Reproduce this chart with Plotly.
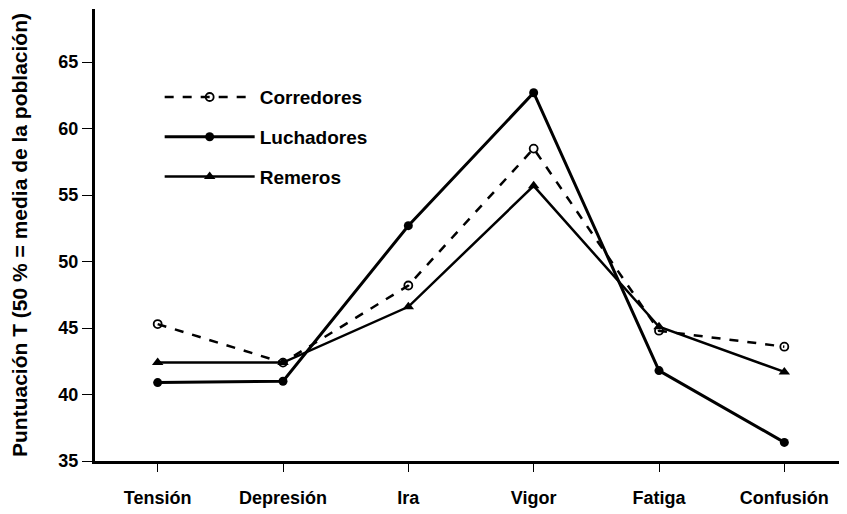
import plotly.graph_objects as go

categories = ["Tensión", "Depresión", "Ira", "Vigor", "Fatiga", "Confusión"]
corredores = [45.3, 42.4, 48.2, 58.5, 44.8, 43.6]
luchadores = [40.9, 41.0, 52.7, 62.7, 41.8, 36.4]
remeros = [42.4, 42.4, 46.6, 55.7, 45.1, 41.7]
y_ticks = [35, 40, 45, 50, 55, 60, 65]

font_family = "Liberation Sans, Arial, sans-serif"

fig = go.Figure()
fig.add_trace(go.Scatter(
    x=categories, y=corredores, name="<b>Corredores</b>", mode="lines+markers",
    line=dict(color="black", width=2.5, dash="dash"),
    marker=dict(symbol="circle-open", size=8, color="black", line=dict(width=1.8)),
    legendgroup="a",
))
fig.add_trace(go.Scatter(
    x=categories, y=luchadores, name="<b>Luchadores</b>", mode="lines+markers",
    line=dict(color="black", width=3),
    marker=dict(symbol="circle", size=9, color="black"),
    legendgroup="b",
))
fig.add_trace(go.Scatter(
    x=categories, y=remeros, name="<b>Remeros</b>", mode="lines+markers",
    line=dict(color="black", width=2.5),
    marker=dict(symbol="triangle-up", size=10, color="black"),
    legendgroup="c",
))

# The page body adds an 8px offset; size and margins compensate for it.
fig.update_layout(
    width=839, height=506,
    margin=dict(l=87, r=0, t=1, b=53),
    paper_bgcolor="white", plot_bgcolor="white",
    font=dict(family=font_family, color="black", size=18),
    showlegend=True,
    legend=dict(
        x=0.086, y=0.847, xanchor="left", yanchor="top",
        bgcolor="rgba(0,0,0,0)", font=dict(size=19, family=font_family),
        traceorder="grouped", tracegroupgap=12, itemwidth=90,
    ),
    xaxis=dict(
        type="category", range=[-0.5, 5.5],
        showline=True, linecolor="black", linewidth=3,
        ticks="outside", ticklen=8, tickcolor="black", tickwidth=1,
        showgrid=False, zeroline=False, ticklabelstandoff=10,
        tickfont=dict(size=18, weight="bold"),
    ),
    yaxis=dict(
        range=[35, 69], tickvals=y_ticks,
        showline=True, linecolor="black", linewidth=3,
        ticks="outside", ticklen=10, tickcolor="black", tickwidth=1,
        showgrid=False, zeroline=False,
        tickfont=dict(size=18, weight="bold"),
        title=dict(text="<b>Puntuación T (50 % = media de la población)</b>",
                   font=dict(size=21), standoff=26),
    ),
)

fig.write_html("out.html")
